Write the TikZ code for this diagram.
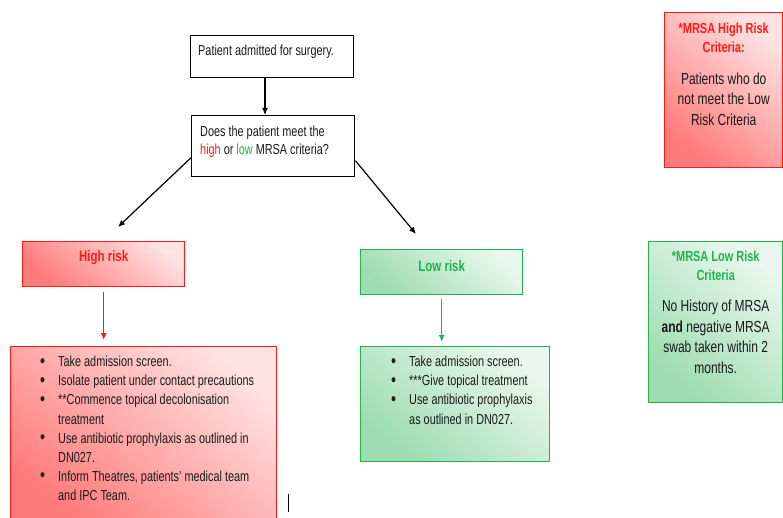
\documentclass[tikz,border=0pt]{standalone}
\usepackage{fontspec}
\setmainfont{Liberation Sans}[FakeStretch=0.75]
\usepackage{xcolor}
\usepackage{tikz}
\usetikzlibrary{arrows.meta,positioning,calc}
\definecolor{mrsared}{HTML}{FF1A1A}
\definecolor{mrsaredlight}{HTML}{FFE2E2}
\definecolor{mrsareddark}{HTML}{FF7A7A}
\definecolor{mrsagreen}{HTML}{22B24C}
\definecolor{mrsagreenlight}{HTML}{EAF7EE}
\definecolor{mrsagreendark}{HTML}{9CDCAF}
\definecolor{mrsatext}{HTML}{1A1A1A}
\newcommand{\bul}{\makebox[18pt][l]{\raisebox{-0.5pt}{\fontsize{19}{19}\selectfont\textbullet}}}
\newcommand{\cont}{\hspace*{18pt}}

\begin{document}
\begin{tikzpicture}[x=1pt,y=-1pt,
  plain/.style={rectangle,draw=black,line width=1.4pt,fill=white,inner sep=0pt,anchor=north west},
  hibox/.style={rectangle,draw=mrsared,line width=1.4pt,inner sep=0pt,anchor=north west,
    top color=mrsaredlight,bottom color=mrsareddark,shading angle=-40},
  lobox/.style={rectangle,draw=mrsagreen,line width=1.4pt,inner sep=0pt,anchor=north west,
    top color=mrsagreenlight,bottom color=mrsagreendark,shading angle=-40},
  txt/.style={anchor=north west,inner sep=0pt,align=left,font=\fontsize{14.5}{18}\selectfont,text=mrsatext},
  items/.style={anchor=north west,inner sep=0pt,align=left,font=\fontsize{14.5}{19.1}\selectfont,text=mrsatext},
  ctxt/.style={inner sep=0pt,align=center,font=\fontsize{16}{20.5}\selectfont,text=mrsatext},
  lab/.style={inner sep=0pt,font=\fontsize{15.3}{17}\selectfont\bfseries},
  keylab/.style={inner sep=0pt,align=center,font=\fontsize{14.6}{18.5}\selectfont\bfseries},
  >={Latex[length=7pt,width=6pt]}]

  \useasboundingbox (0,0) rectangle (783,518);

  % Admission and question
  \node[plain,minimum width=163,minimum height=42] (admit) at (190,35) {};
  \node[txt] (admittxt) at (198,45) {Patient admitted for surgery.};
  \node[plain,minimum width=163,minimum height=61] (ask) at (191,115) {};
  \node[txt] (asktxt) at (200,126) {Does the patient meet the\\
    \textcolor{mrsared}{high} or \textcolor{mrsagreen}{low} MRSA criteria?};

  \draw[->,line width=1.2pt] (admit.south -| 265,0) -- (ask.north -| 265,0);

  \coordinate (hiend) at (118,227);
  \coordinate (loend) at (416,234);
  \draw[->,line width=1.2pt] (ask.188) -- (hiend);
  \draw[->,line width=1.2pt] (ask.350) -- (loend);

  % High risk branch
  \node[hibox,minimum width=162,minimum height=45] (hirisk) at (22,241) {};
  \node[lab,text=mrsared] (hirisktxt) at ($(hirisk.north)+(0,17)$) {High risk};
  \node[hibox,minimum width=266,minimum height=180] (hilist) at (10,346) {};
  \node[items] (hilisttxt) at (40,356) {%
    \bul Take admission screen.\\
    \bul Isolate patient under contact precautions\\
    \bul **Commence topical decolonisation\\
    \cont treatment\\
    \bul Use antibiotic prophylaxis as outlined in\\
    \cont DN027.\\
    \bul Inform Theatres, patients’ medical team\\
    \cont and IPC Team.};
  \draw[->,mrsared,line width=1.3pt,shorten <=5pt,shorten >=6pt] (hirisk.south) -- (hirisk.south |- hilist.north);

  % Low risk branch
  \node[lobox,minimum width=162,minimum height=45] (lorisk) at (360,249) {};
  \node[lab,text=mrsagreen] (lorisktxt) at ($(lorisk.north)+(0,17)$) {Low risk};
  \node[lobox,minimum width=189,minimum height=115] (lolist) at (360,346) {};
  \node[items] (lolisttxt) at (391,356) {%
    \bul Take admission screen.\\
    \bul ***Give topical treatment\\
    \bul Use antibiotic prophylaxis\\
    \cont as outlined in DN027.};
  \draw[->,mrsagreen,line width=1.3pt,shorten <=4pt,shorten >=4pt] (lorisk.south) -- (lorisk.south |- lolist.north);

  % Criteria keys
  \node[hibox,minimum width=118,minimum height=155] (hikey) at (664,12) {};
  \node[keylab,text=mrsared] (hikeytitle) at ($(hikey.north)+(0,26)$) {*MRSA High Risk\\Criteria:};
  \node[ctxt] (hikeytxt) at ($(hikey.north)+(0,87)$) {Patients who do\\not meet the Low\\Risk Criteria};

  \node[lobox,minimum width=134,minimum height=161] (lokey) at (648,241) {};
  \node[keylab,text=mrsagreen] (lokeytitle) at ($(lokey.north)+(0,25)$) {*MRSA Low Risk\\Criteria};
  \node[ctxt] (lokeytxt) at ($(lokey.north)+(0,96)$) {No History of MRSA\\\textbf{and} negative MRSA\\swab taken within 2\\months.};

  % stray cursor mark
  \draw[line width=0.8pt] (288,494) -- (288,512);
\end{tikzpicture}
\end{document}
